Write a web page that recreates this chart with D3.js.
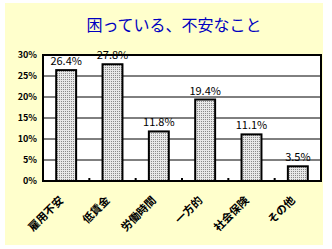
<!DOCTYPE html>
<html>
<head>
<meta charset="utf-8">
<script src="https://cdn.jsdelivr.net/npm/d3@7"></script>
<style>
	body { margin: 0; background: #fff; }
	text { font-family: "Noto Sans CJK JP", sans-serif; }
</style>
</head>
<body>
<script>
// categories and values
var categories = ['雇用不安', '低賃金', '労働時間', '一方的', '社会保険', 'その他'];
var values = [26.4, 27.8, 11.8, 19.4, 11.1, 3.5];
var yTicks = [0, 5, 10, 15, 20, 25, 30];
var title = '困っている、不安なこと';

var W = 332, H = 249;
var margin = {top: 55, right: 11, bottom: 68, left: 43},
	width = W - margin.left - margin.right,
	height = H - margin.top - margin.bottom;

var svg = d3.select('body').append('svg')
	.attr('width', W)
	.attr('height', H);

// dotted fill for the bars
var pat = svg.append('defs').append('pattern')
	.attr('id', 'dots')
	.attr('patternUnits', 'userSpaceOnUse')
	.attr('width', 2)
	.attr('height', 2);
pat.append('rect').attr('width', 2).attr('height', 2).attr('fill', '#e8e8e8');
pat.append('rect').attr('width', 1).attr('height', 1).attr('fill', '#8a8a8a');

// chart background
svg.append('rect')
	.attr('x', 5).attr('y', 3)
	.attr('width', 318).attr('height', 242)
	.attr('fill', '#ffffcc');

svg.append('text')
	.attr('x', 174)
	.attr('y', 31)
	.attr('text-anchor', 'middle')
	.attr('font-size', '16px')
	.attr('fill', '#0000c0')
	.text(title);

var g = svg.append('g')
	.attr('transform', 'translate(' + margin.left + ',' + margin.top + ')');

var x = d3.scaleBand()
	.domain(categories)
	.range([0, width])
	.paddingInner(0.57)
	.paddingOuter(0.285);

var y = d3.scaleLinear()
	.domain([0, 30])
	.range([height, 0]);

// plot area
g.append('rect')
	.attr('width', width)
	.attr('height', height)
	.attr('fill', '#fff');

// gridlines
g.selectAll('.grid')
	.data(yTicks.slice(1))
	.enter().append('line')
	.attr('x1', 0).attr('x2', width)
	.attr('y1', function(d) { return y(d); })
	.attr('y2', function(d) { return y(d); })
	.attr('stroke', '#000')
	.attr('stroke-width', 1);

// category tick marks on the baseline
var step = width / categories.length;
g.selectAll('.ctick')
	.data(d3.range(1, categories.length))
	.enter().append('line')
	.attr('x1', function(d) { return d * step; })
	.attr('x2', function(d) { return d * step; })
	.attr('y1', height)
	.attr('y2', height - 3)
	.attr('stroke', '#000')
	.attr('stroke-width', 2);

// bars
g.selectAll('.bar')
	.data(values)
	.enter().append('rect')
	.attr('x', function(d, i) { return x(categories[i]); })
	.attr('y', function(d) { return y(d); })
	.attr('width', x.bandwidth())
	.attr('height', function(d) { return height - y(d); })
	.attr('fill', 'url(#dots)')
	.attr('stroke', '#000')
	.attr('stroke-width', 2);

// value labels
g.selectAll('.val')
	.data(values)
	.enter().append('text')
	.attr('x', function(d, i) { return x(categories[i]) + x.bandwidth() / 2; })
	.attr('y', function(d) { return y(d) - 5; })
	.attr('text-anchor', 'middle')
	.attr('font-size', '11px')
	.attr('fill', '#000')
	.text(function(d) { return d.toFixed(1) + '%'; });

// frame
g.append('rect')
	.attr('width', width)
	.attr('height', height)
	.attr('fill', 'none')
	.attr('stroke', '#000')
	.attr('stroke-width', 2);

// y axis labels
var yAxis = d3.axisLeft(y)
	.tickValues(yTicks)
	.tickSize(0)
	.tickPadding(6)
	.tickFormat(function(d) { return d + '%'; });

g.append('g')
	.call(yAxis)
	.call(function(a) { a.select('.domain').remove(); })
	.selectAll('text')
	.attr('font-family', '"Noto Sans CJK JP", sans-serif')
	.attr('font-size', '9px')
	.attr('font-weight', 'bold')
	.attr('fill', '#000');

// x labels, rotated
g.selectAll('.xl')
	.data(categories)
	.enter().append('text')
	.attr('transform', function(d) {
		var cx = x(d) + x.bandwidth() / 2 - 2;
		return 'translate(' + cx + ',' + (height + 20) + ') rotate(-45)';
	})
	.attr('text-anchor', 'end')
	.attr('font-size', '11px')
	.attr('font-weight', 'bold')
	.attr('fill', '#000')
	.text(function(d) { return d; });
</script>
</body>
</html>
